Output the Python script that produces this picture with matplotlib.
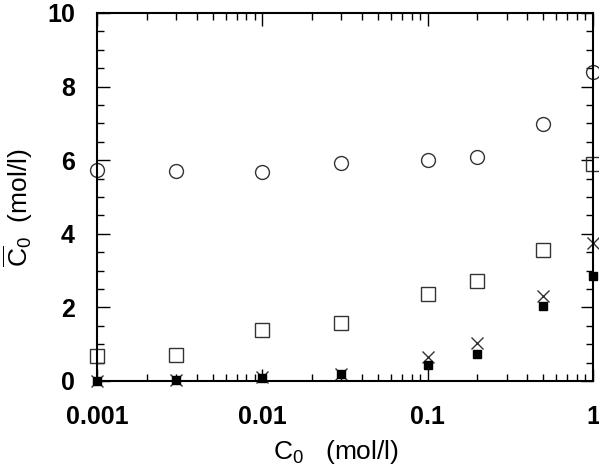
import matplotlib
matplotlib.use("Agg")
import matplotlib.pyplot as plt
from matplotlib.ticker import LogLocator, MultipleLocator, FixedFormatter, FixedLocator

plt.rcParams['font.family'] = ['Liberation Sans', 'DejaVu Sans']
plt.rcParams['mathtext.fontset'] = 'custom'
plt.rcParams['mathtext.rm'] = 'Liberation Sans'
plt.rcParams['mathtext.it'] = 'Liberation Sans'

# data
c0 = [0.001, 0.003, 0.01, 0.03, 0.1, 0.2, 0.5, 1.0]
circles = [5.73, 5.71, 5.68, 5.92, 6.0, 6.09, 6.98, 8.4]
squares = [0.68, 0.71, 1.39, 1.58, 2.36, 2.72, 3.56, 5.9]
crosses = [0.0, 0.02, 0.1, 0.2, 0.65, 1.03, 2.3, 3.75]
filled = [0.0, 0.03, 0.08, 0.18, 0.43, 0.73, 2.04, 2.85]

fig = plt.figure(figsize=(5.99, 4.66), dpi=100)
ax = fig.add_axes([97 / 599, 1 - 381 / 466, (593 - 97) / 599, (381 - 13) / 466])

ax.plot(c0, circles, 'o', mfc='none', mec='#333333', ms=10, mew=1.0, clip_on=False)
ax.plot(c0, squares, 's', mfc='none', mec='#333333', ms=10, mew=1.0, clip_on=False)
ax.plot(c0, crosses, 'x', color='#333333', ms=9, mew=1.0, clip_on=False)
ax.plot(c0, filled, 's', color='black', ms=6, clip_on=False)

ax.set_xscale('log')
ax.set_xlim(0.001, 1)
ax.set_ylim(0, 10)
ax.xaxis.set_major_locator(FixedLocator([0.001, 0.01, 0.1, 1]))
ax.xaxis.set_major_formatter(FixedFormatter(['0.001', '0.01', '0.1', '1']))
ax.xaxis.set_minor_locator(LogLocator(base=10, subs=range(2, 10)))
ax.yaxis.set_major_locator(MultipleLocator(2))
ax.yaxis.set_minor_locator(MultipleLocator(0.5))

ax.tick_params(which='both', direction='in', top=True, right=True, width=1.0)
ax.tick_params(which='major', length=9, labelsize=18)
ax.tick_params(which='minor', length=5)
ax.tick_params(axis='x', which='major', pad=17)
ax.tick_params(axis='y', which='major', pad=16)
for lab in ax.get_xticklabels() + ax.get_yticklabels():
    lab.set_fontweight('bold')
for sp in ax.spines.values():
    sp.set_linewidth(1.5)

ax.set_xlabel(r'C$_0$   (mol/l)', fontsize=19)
ax.set_ylabel(r'$\overline{\mathrm{C}}_0$  (mol/l)', fontsize=19)
ax.xaxis.set_label_coords(0.482, -0.155)
ax.yaxis.set_label_coords(-0.125, 0.47)

fig.savefig('out.png', dpi=100)
